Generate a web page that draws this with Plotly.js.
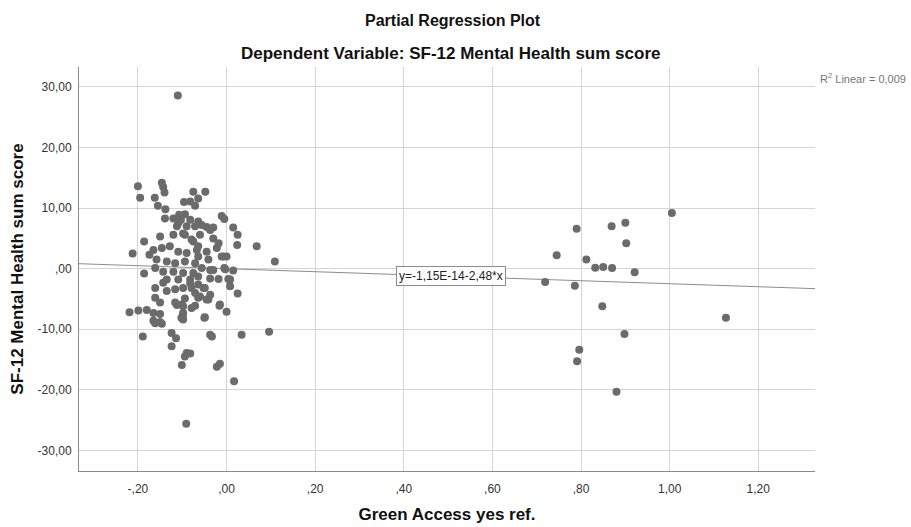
<!DOCTYPE html>
<html>
<head>
<meta charset="utf-8">
<script src="https://cdn.plot.ly/plotly-3.0.1.min.js"></script>
<style>
  html, body { margin: 0; padding: 0; background: #ffffff; }
  #chart { width: 911px; height: 527px; }
</style>
</head>
<body>
<div id="chart"></div>
<script>
// Partial residuals: Green Access (yes ref.) vs SF-12 Mental Health sum score
const greenAccess = [
  -0.110, -0.200, -0.195, -0.146, -0.143, -0.140, -0.162, -0.155, -0.138, -0.075,
  -0.048, -0.096, -0.082, -0.064, -0.071, -0.107, -0.094, -0.139, -0.120, -0.103,
  -0.082, -0.064, -0.011, -0.005, 0.015, -0.045, -0.030, -0.112, -0.090, -0.071,
  0.025, 0.024, 0.068, -0.186, -0.212, -0.174, -0.186, -0.120, -0.094, -0.075,
  -0.037, -0.030, -0.018, -0.007, 0.000, 0.015, -0.003, -0.037, -0.018, 0.008,
  0.008, 0.025, -0.052, -0.041, -0.060, -0.082, -0.079, -0.094, -0.112, -0.098,
  -0.071, -0.016, 0.000, -0.049, -0.098, -0.098, -0.219, -0.199, -0.180, -0.165,
  -0.150, -0.161, -0.146, -0.189, -0.124, -0.037, 0.034, 0.096, -0.165, -0.146,
  -0.128, -0.109, -0.090, -0.067, -0.158, -0.135, -0.116, -0.094, -0.071, -0.161,
  -0.143, -0.120, -0.098, -0.075, -0.135, -0.109, -0.082, -0.056, -0.060, -0.022,
  -0.064, -0.045, -0.064, -0.041, -0.011, -0.056, -0.030, -0.005, 0.109, -0.064,
  -0.037, 0.004, -0.161, -0.161, -0.150, -0.135, -0.116, -0.098, -0.143, -0.116,
  -0.101, -0.098, -0.079, -0.071, -0.064, -0.064, -0.049, -0.037, -0.045, -0.015,
  -0.050, -0.114, -0.124, -0.033, -0.090, -0.082, -0.094, -0.101, -0.022, -0.015,
  0.017, -0.091, -0.102, -0.165, -0.150, -0.098, -0.079, -0.150, -0.109,
  1.005, 0.790, 0.869, 0.900, 0.902, 0.745, 0.812, 0.832, 0.850, 0.870,
  0.921, 0.719, 0.786, 0.848, 1.127, 0.898, 0.796, 0.791, 0.880
];
const mentalHealth = [
  28.6, 13.6, 11.7, 14.2, 13.5, 12.6, 11.7, 10.4, 9.8, 12.7,
  12.7, 11.0, 11.1, 11.6, 10.4, 8.9, 9.0, 8.3, 8.3, 8.1,
  8.1, 7.8, 8.7, 8.2, 6.8, 6.9, 6.8, 7.0, 7.0, 7.0,
  5.6, 3.9, 3.7, 4.5, 2.5, 2.3, -0.8, 5.6, 5.6, 4.5,
  6.4, 5.0, 4.2, 2.0, 2.0, -0.3, -0.1, -0.2, -1.7, -1.8,
  -2.9, -4.1, -3.2, -5.1, -4.6, -2.4, -3.2, -4.9, -6.0, -6.2,
  -6.1, -6.1, -7.1, -8.0, -7.6, -8.4, -7.2, -6.9, -6.8, -7.3,
  -7.5, -9.0, -9.1, -11.2, -10.6, -10.9, -10.9, -10.4, 3.1, 3.4,
  3.7, 2.8, 2.6, 3.1, 1.5, 1.2, 0.9, 1.2, 0.9, 0.1,
  -0.5, -0.5, -0.7, -0.7, -1.8, -1.8, -1.8, 7.2, 5.6, 3.4,
  3.7, 2.8, 2.0, 1.5, 2.0, 0.1, -0.2, 0.1, 1.2, -1.3,
  -1.6, -1.7, -3.2, -4.8, -5.6, -3.7, -3.4, -3.2, -2.3, -5.6,
  -5.9, -7.3, -6.5, -4.0, -2.6, -4.8, -3.2, -4.3, -5.1, -5.9,
  -8.1, -11.5, -12.8, -11.2, -13.9, -14.0, -14.5, -15.9, -16.2, -15.7,
  -18.6, -25.6, -8.1, -8.6, -8.8, 5.8, 4.8, 5.3, 7.5,
  9.2, 6.6, 7.0, 7.6, 4.2, 2.2, 1.5, 0.15, 0.3, 0.1,
  -0.6, -2.2, -2.8, -6.2, -8.1, -10.8, -13.4, -15.3, -20.3
];

// Fit line coefficients and summary
const fitIntercept = -1.15e-14;
const fitSlope = -2.48;
const fitLabel = 'y=-1,15E-14-2,48*x';
const rSquaredLabel = 'R<sup>2</sup> Linear = 0,009';

// Axis extents and tick labels (comma decimals)
const xRange = [-0.333, 1.328];
const yRange = [-33.4, 33.3];
const xTickVals = [-0.2, 0, 0.2, 0.4, 0.6, 0.8, 1.0, 1.2];
const xTickText = ['-,20', ',00', ',20', ',40', ',60', ',80', '1,00', '1,20'];
const yTickVals = [30, 20, 10, 0, -10, -20, -30];
const yTickText = ['30,00', '20,00', '10,00', ',00', '-10,00', '-20,00', '-30,00'];

const fitX = [xRange[0], xRange[1]];
const fitY = fitX.map(function (x) { return fitIntercept + fitSlope * x; });
const labelX = 0.506;
const labelY = fitIntercept + fitSlope * labelX;

const FONT = 'Liberation Sans, Arial, sans-serif';

const traces = [
  {
    x: fitX, y: fitY, type: 'scatter', mode: 'lines',
    line: { color: '#8c8c8c', width: 1 },
    hoverinfo: 'skip', showlegend: false
  },
  {
    x: greenAccess, y: mentalHealth, type: 'scatter', mode: 'markers',
    marker: { color: '#6b6b6b', size: 8, line: { width: 0 } },
    showlegend: false
  }
];

const layout = {
  width: 911, height: 527,
  margin: { l: 79, r: 96, t: 67, b: 56 },
  paper_bgcolor: '#ffffff', plot_bgcolor: '#ffffff',
  font: { family: FONT, color: '#333333' },
  xaxis: {
    range: xRange, tickvals: xTickVals, ticktext: xTickText,
    showgrid: true, gridcolor: '#d4d4d4', gridwidth: 1,
    zeroline: false, showline: true, linecolor: '#8a8a8a', linewidth: 1,
    ticks: '', tickfont: { size: 12, color: '#333333', family: FONT },
    ticklabelstandoff: 7,
    title: { text: 'Green Access yes ref.', font: { size: 17, color: '#111111', family: FONT, weight: 'bold' }, standoff: 12 }
  },
  yaxis: {
    range: yRange, tickvals: yTickVals, ticktext: yTickText,
    showgrid: true, gridcolor: '#d4d4d4', gridwidth: 1,
    zeroline: false, showline: true, linecolor: '#8a8a8a', linewidth: 1,
    ticks: '', tickfont: { size: 12, color: '#333333', family: FONT },
    ticklabelstandoff: 4,
    title: { text: 'SF-12 Mental Health sum score', font: { size: 17, color: '#111111', family: FONT, weight: 'bold' }, standoff: 9 }
  },
  annotations: [
    {
      text: 'Partial Regression Plot', xref: 'paper', yref: 'paper',
      x: 0.508, y: 1, yshift: 47, showarrow: false, xanchor: 'center', yanchor: 'middle',
      font: { size: 16, color: '#111111', family: FONT, weight: 'bold' }
    },
    {
      text: 'Dependent Variable: SF-12 Mental Health sum score', xref: 'paper', yref: 'paper',
      x: 0.505, y: 1, yshift: 14, showarrow: false, xanchor: 'center', yanchor: 'middle',
      font: { size: 17, color: '#111111', family: FONT, weight: 'bold' }
    },
    {
      text: fitLabel, x: labelX, y: labelY, xref: 'x', yref: 'y',
      showarrow: false, xanchor: 'center', yanchor: 'middle',
      bgcolor: '#ffffff', bordercolor: '#8c8c8c', borderwidth: 1, borderpad: 2,
      font: { size: 12, color: '#222222', family: FONT }
    },
    {
      text: rSquaredLabel, xref: 'paper', yref: 'paper',
      x: 1.004, y: 0.973, showarrow: false, xanchor: 'left', yanchor: 'middle',
      font: { size: 11, color: '#777777', family: FONT }
    }
  ]
};

Plotly.newPlot('chart', traces, layout, { displayModeBar: false, staticPlot: true });
</script>
</body>
</html>
